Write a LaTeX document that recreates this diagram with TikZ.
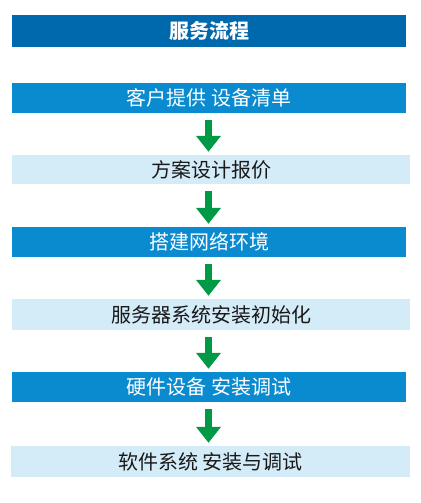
\documentclass[tikz,border=0pt]{standalone}
\usepackage{fontspec}
\newfontfamily\cjk{Noto Sans CJK SC}
\usetikzlibrary{arrows.meta}
\definecolor{titleblue}{HTML}{0068AD}
\definecolor{stepblue}{HTML}{0A8BD0}
\definecolor{steplight}{HTML}{D4EBF8}
\definecolor{stepgreen}{HTML}{009A46}
\begin{document}
\begin{tikzpicture}[x=1bp, y=-1bp,
	darkstep/.style={fill=stepblue, text=white, minimum width=394bp, minimum height=30bp, inner sep=0pt, font=\cjk\fontsize{20bp}{22bp}\selectfont},
	lightstep/.style={fill=steplight, text=black!90, minimum width=398bp, minimum height=30bp, inner sep=0pt, font=\cjk\fontsize{20bp}{22bp}\selectfont},
	flow/.style={draw=stepgreen, line width=7bp, -{Triangle[width=24bp, length=16bp]}, shorten <=7bp, shorten >=3bp}]
	% 1. Page frame
	\useasboundingbox (0,0) rectangle (420,503);
	
	% 2. Title bar
	\node[fill=titleblue, text=white, minimum width=394bp, minimum height=32bp, inner sep=0pt, font=\cjk\bfseries\fontsize{20bp}{22bp}\selectfont] (title) at (209,31) {服务流程};
	
	% 3. Steps
	\node[darkstep] (s1) at (209,98) {客户提供 设备清单};
	\node[lightstep, minimum height=29bp] (s2) at (211,169.5) {方案设计报价};
	\node[darkstep] (s3) at (209,242) {搭建网络环境};
	\node[lightstep, minimum height=31bp] (s4) at (211,314.5) {服务器系统安装初始化};
	\node[darkstep] (s5) at (209,387) {硬件设备 安装调试};
	\node[lightstep, minimum height=31bp] (s6) at (210.5,461.5) {软件系统 安装与调试};
	
	% 4. Green arrows between steps
	\foreach \a/\b in {s1/s2, s2/s3, s3/s4, s4/s5, s5/s6}
		\draw[flow] (\a.south -| 208.5,0) -- (\b.north -| 208.5,0);
\end{tikzpicture}
\end{document}
